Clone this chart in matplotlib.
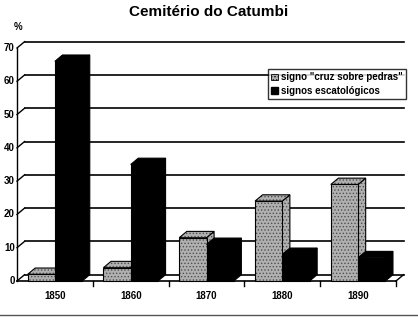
import matplotlib.pyplot as plt
from matplotlib.patches import Polygon, Patch
from matplotlib.lines import Line2D

plt.rcParams['font.family'] = ['Liberation Sans', 'DejaVu Sans']
plt.rcParams['hatch.linewidth'] = 0.6

years = ["1850", "1860", "1870", "1880", "1890"]
cruz = [2, 4, 13, 24, 29]
escato = [66, 35, 11, 8, 7]
yticks = [0, 10, 20, 30, 40, 50, 60, 70]
labels = ['signo "cruz sobre pedras"', 'signos escatológicos']

grey = '#b0b0b0'
dark = '#505050'
bw = 0.36      # bar width (data units)
dx, dy = 0.1, 1.9   # 3d depth offset

fig = plt.figure(figsize=(4.18, 3.17), dpi=100)
ax = fig.add_axes([17 / 418, 1 - 281 / 317, 379 / 418, 233 / 317])
ax.set_xlim(-0.5, 4.5)
ax.set_ylim(0, 70)
for s in ax.spines.values():
    s.set_visible(False)
ax.set_xticks([])
ax.set_yticks([])

kw = dict(clip_on=False)
# back wall grid lines + slanted ticks from the front axis
for v in yticks:
    ax.plot([-0.5 + dx, 4.5 + dx], [v + dy, v + dy], color='black', lw=1.2, **kw)
    ax.plot([-0.5, -0.5 + dx], [v, v + dy], color='black', lw=1.0, **kw)
    ax.text(-0.53, v, str(v), ha='right', va='center', fontsize=7,
            fontweight='bold')
# front axis and floor
ax.plot([-0.5, -0.5], [0, 70], color='black', lw=1.0, **kw)
ax.plot([-0.5, 4.5], [0, 0], color='black', lw=1.2, **kw)
ax.plot([4.5, 4.5 + dx], [0, dy], color='black', lw=1.0, **kw)
for b in [0.5, 1.5, 2.5, 3.5, 4.5]:
    ax.plot([b, b], [0, -1.6], color='black', lw=1.0, **kw)
for i, y in enumerate(years):
    ax.text(i, -3.0, y, ha='center', va='top', fontsize=7, fontweight='bold')

ax.text(-0.48, 76.3, '%', ha='center', va='center', fontsize=7, fontweight='bold')


def bar3d(xc, v, face, hatch):
    x0, x1 = xc - bw / 2, xc + bw / 2
    side = [(x1, 0), (x1 + dx, dy), (x1 + dx, v + dy), (x1, v)]
    top = [(x0, v), (x0 + dx, v + dy), (x1 + dx, v + dy), (x1, v)]
    front = [(x0, 0), (x0, v), (x1, v), (x1, 0)]
    for pts in (side, top, front):
        ec = dark if hatch else 'black'
        ax.add_patch(Polygon(pts, closed=True, facecolor=face, edgecolor=ec,
                             hatch=hatch, lw=0, zorder=3, clip_on=False))
        ax.add_patch(Polygon(pts, closed=True, fill=False, edgecolor='black',
                             lw=0.8, zorder=3, clip_on=False))


for i in range(len(years)):
    bar3d(i - bw / 2, cruz[i], grey, '.....')
    bar3d(i + bw / 2, escato[i], 'black', None)

handles = [Patch(facecolor=grey, edgecolor='black', hatch='.....', lw=0.6),
           Patch(facecolor='black', edgecolor='black')]
leg = ax.legend(handles, labels, loc='upper right',
                bbox_to_anchor=(406 / 418, 1 - 69 / 317),
                bbox_transform=fig.transFigure,
                prop={'weight': 'bold', 'size': 7},
                frameon=True, fancybox=False, edgecolor='black',
                handlelength=0.7, handleheight=0.7, handletextpad=0.3,
                borderpad=0.35, labelspacing=0.35, borderaxespad=0)
leg.get_frame().set_linewidth(1.0)
leg.set_zorder(5)

fig.text(209 / 418, 1 - 12 / 317, 'Cemitério do Catumbi', ha='center',
         va='center', fontsize=11, fontweight='bold')
fig.add_artist(Line2D([0, 1], [1 - 315 / 317, 1 - 315 / 317], color='#555555',
                      lw=1.0, transform=fig.transFigure))

fig.savefig('out.png', dpi=100)
